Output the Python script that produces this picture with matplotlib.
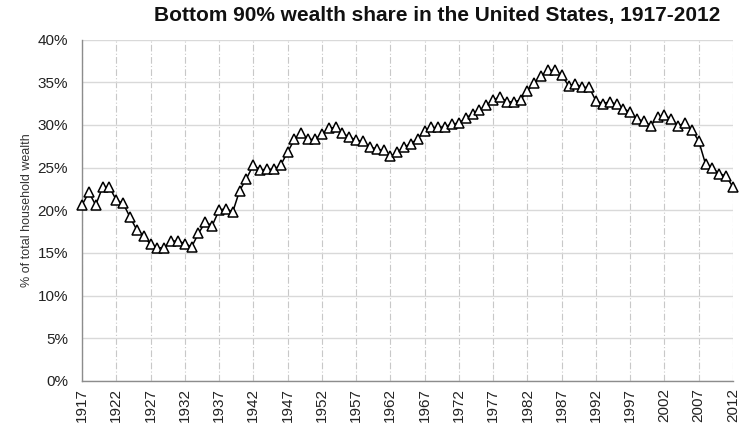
import numpy as np
import matplotlib
matplotlib.use("Agg")
import matplotlib.pyplot as plt
from matplotlib.ticker import FuncFormatter

plt.rcParams['font.family'] = ['Liberation Sans', 'DejaVu Sans']

# Bottom 90% wealth share (%)
years = list(range(1917, 2013))
share = [
    20.6, 22.1, 20.6, 22.7, 22.7, 21.2, 20.8, 19.2, 17.7, 17.0,   # 1917-1926
    16.0, 15.6, 15.6, 16.4, 16.4, 16.1, 15.7, 17.3, 18.6, 18.2,   # 1927-1936
    20.0, 20.2, 19.8, 22.3, 23.7, 25.3, 24.7, 24.8, 24.8, 25.3,   # 1937-1946
    26.8, 28.3, 29.0, 28.3, 28.3, 28.9, 29.6, 29.7, 29.0, 28.6,   # 1947-1956
    28.2, 28.1, 27.4, 27.2, 27.0, 26.3, 26.8, 27.4, 27.8, 28.4,   # 1957-1966
    29.3, 29.7, 29.7, 29.8, 30.1, 30.2, 30.8, 31.3, 31.7, 32.3,   # 1967-1976
    32.9, 33.3, 32.7, 32.7, 32.9, 34.0, 34.9, 35.7, 36.4, 36.4,   # 1977-1986
    35.8, 34.6, 34.8, 34.4, 34.4, 32.8, 32.5, 32.7, 32.4, 31.9,   # 1987-1996
    31.5, 30.7, 30.4, 29.9, 30.9, 31.1, 30.7, 29.9, 30.2, 29.4,   # 1997-2006
    28.1, 25.4, 24.9, 24.3, 24.0, 22.7,                           # 2007-2012
]
tick_years = list(range(1917, 2013, 5))
y_ticks = [0, 5, 10, 15, 20, 25, 30, 35, 40]

fig = plt.figure(figsize=(7.39, 4.28), dpi=100)
ax = fig.add_axes([82 / 739, 1 - 381 / 428, 651 / 739, (381 - 39.5) / 428])

ax.plot(years, share, color='black', linewidth=1.1, marker='^', markersize=7,
        markerfacecolor='white', markeredgecolor='black', markeredgewidth=1.1,
        zorder=3, clip_on=False)

ax.set_xlim(1917, 2012)
ax.set_ylim(0, 40)
ax.set_xticks(tick_years)
ax.set_xticklabels([str(y) for y in tick_years], rotation=90, fontsize=11, color='#222222')
ax.set_yticks(y_ticks)
ax.yaxis.set_major_formatter(FuncFormatter(lambda v, p: f"{int(v)}%"))
ax.tick_params(axis='y', labelsize=11, labelcolor='#222222', length=0, pad=10)
ax.tick_params(axis='x', length=0, pad=5)

# grid: solid horizontal, dash-dot vertical
ax.grid(axis='y', color='#d9d9d9', linewidth=1.0, linestyle='-', zorder=0)
ax.grid(axis='x', color='#c8c8c8', linewidth=0.8, linestyle=(0, (6, 2, 1, 2)), zorder=0)
ax.set_axisbelow(True)

for side in ['top', 'right']:
    ax.spines[side].set_visible(False)
for side in ['left', 'bottom']:
    ax.spines[side].set_color('#8c8c8c')
    ax.spines[side].set_linewidth(1.0)

ax.set_ylabel('% of total household wealth', fontsize=9, color='#333333', labelpad=3)

fig.text(437 / 739, 1 - 15 / 428, 'Bottom 90% wealth share in the United States, 1917-2012',
         ha='center', va='center', fontsize=15, fontweight='bold', color='#111111')

fig.savefig('out.png', dpi=100)
